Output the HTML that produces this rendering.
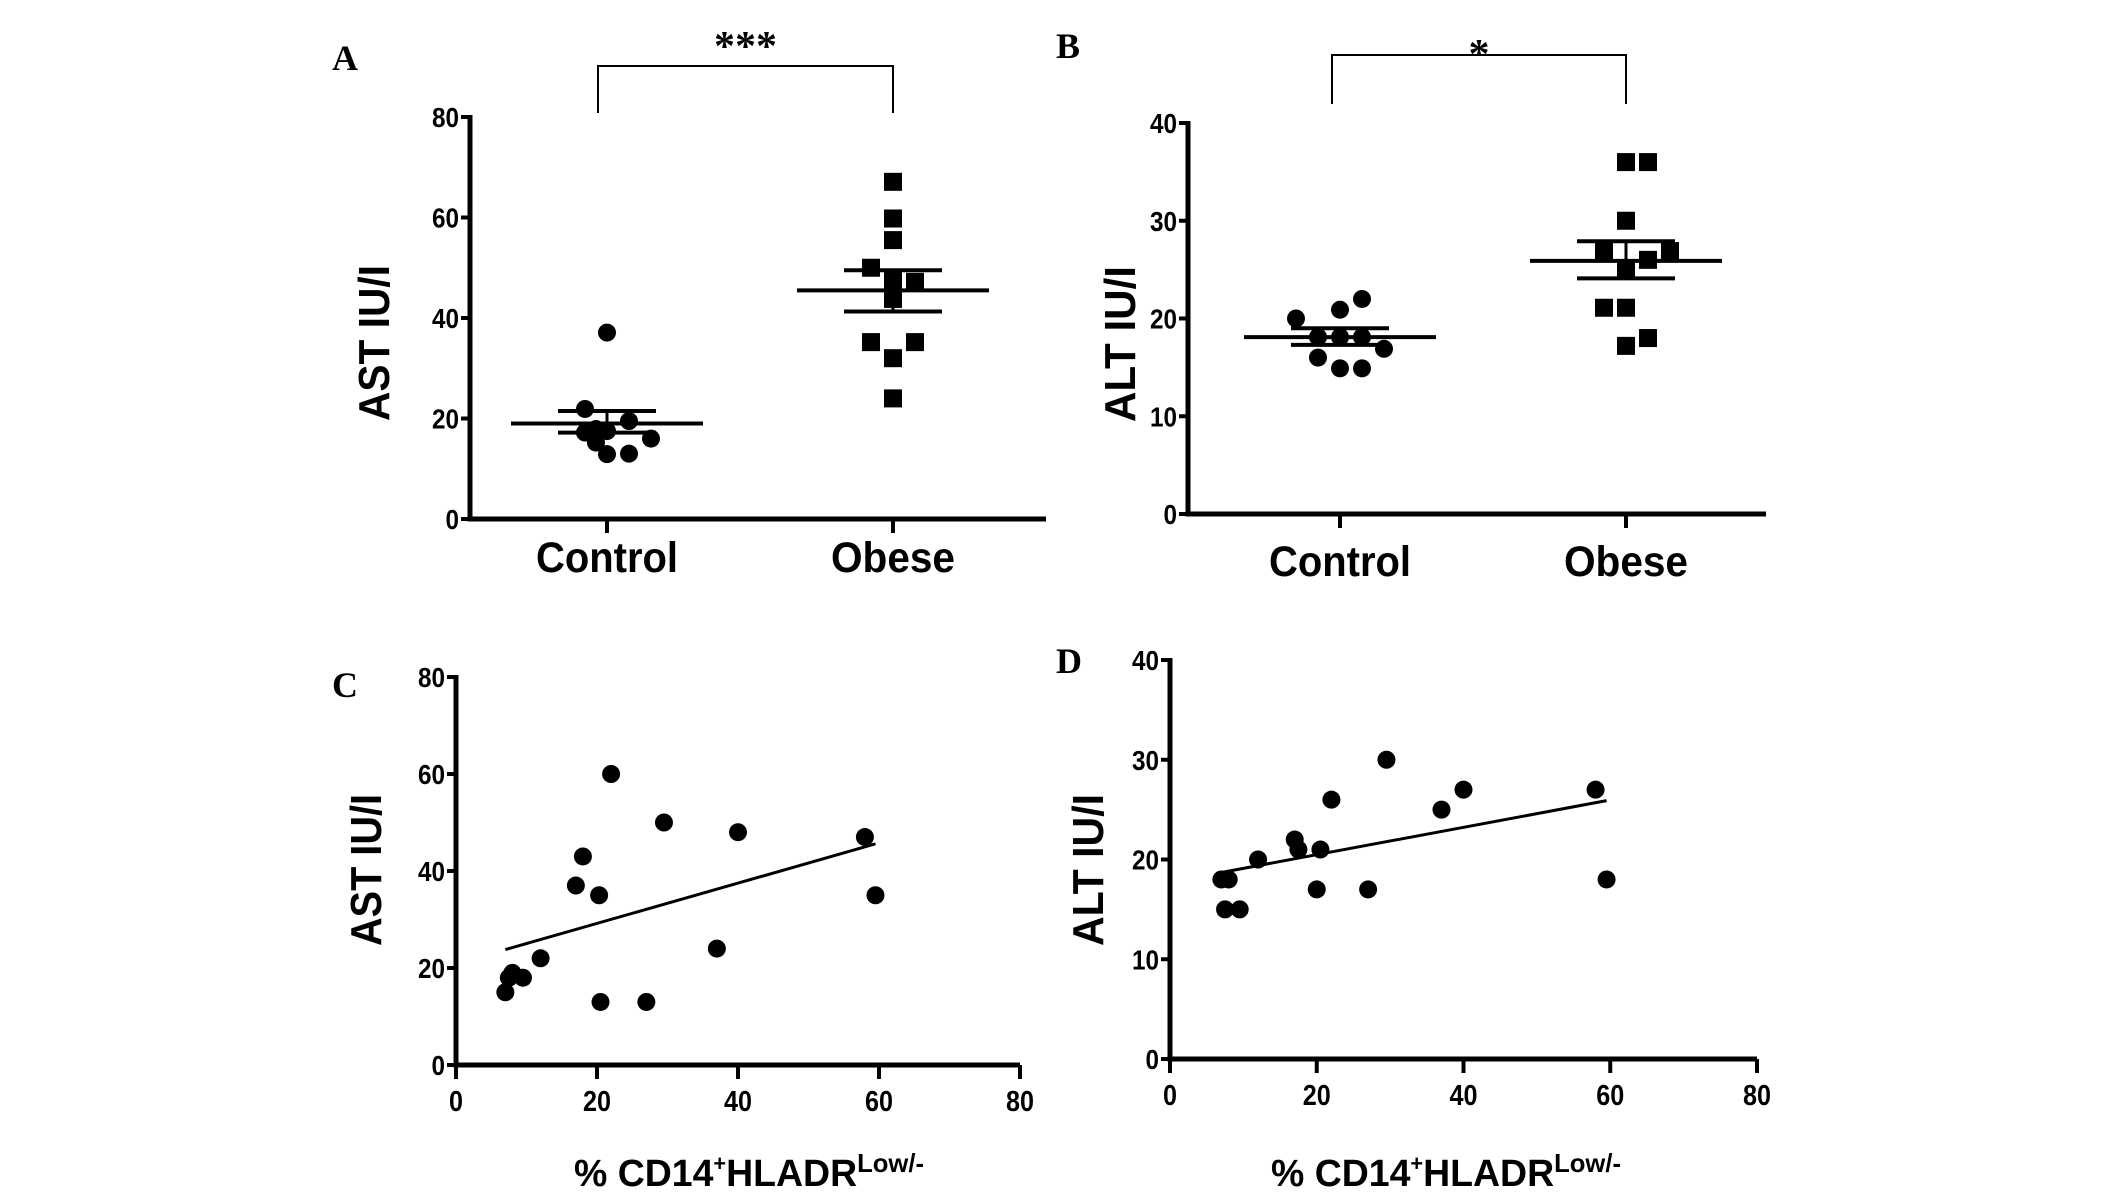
<!DOCTYPE html>
<html><head><meta charset="utf-8"><style>
html,body{margin:0;padding:0;background:#fff;overflow:hidden}
svg{display:block}
text{font-family:"Liberation Sans",sans-serif;font-weight:bold;fill:#000}
.serif{font-family:"Liberation Serif",serif}
</style></head><body>
<svg id="fig" width="2126" height="1192" viewBox="0 0 2126 1192" xmlns="http://www.w3.org/2000/svg"></svg>
<script>
// Panel A: AST by group
const aCategories = ["Control","Obese"];
const aControl = [37.1,21.9,19.5,17.9,17.2,17.5,16,15.2,12.9,13];
const aControlJit = [0,-1,1,-0.5,-1,0,2,-0.5,0,1];
const aObese = [67.1,59.8,55.5,50,47.6,47.2,43.8,35.2,35.2,32,24];
const aObeseJit = [0,0,0,-1,0,1,0,-1,1,0,0];
const aMean = [19, 45.5], aSemHi = [21.5, 49.5], aSemLo = [17.2, 41.3];
const aTicks = [0,20,40,60,80];
// Panel B: ALT by group
const bCategories = ["Control","Obese"];
const bControl = [20,20.9,22,18.1,18.1,18.1,16.9,16,14.9,14.9];
const bControlJit = [-2,0,1,-1,0,1,2,-1,0,1];
const bObese = [36,36,30,26.9,26.9,26,25,21.1,21.1,18,17.2];
const bObeseJit = [0,1,0,-1,2,1,0,-1,0,1,0];
const bMean = [18.1, 25.9], bSemHi = [19, 27.9], bSemLo = [17.3, 24.1];
const bTicks = [0,10,20,30,40];
// Panel C: AST vs %CD14+HLADR low
const cX = [7,7.5,8,9.5,12,17,18,20.3,20.5,22,27,29.5,37,40,58,59.5];
const cY = [15,18,19,18,22,37,43,35,13,60,13,50,24,48,47,35];
const cFit = [[7,23.8],[59.5,45.6]];
const cYTicks = [0,20,40,60,80], cXTicks = [0,20,40,60,80];
// Panel D: ALT vs %CD14+HLADR low
const dX = [7,8,7.5,9.5,12,17,17.5,20.5,20,22,27,29.5,37,40,58,59.5];
const dY = [18,18,15,15,20,22,21,21,17,26,17,30,25,27,27,18];
const dFit = [[7,18.7],[59.5,25.9]];
const dYTicks = [0,10,20,30,40], dXTicks = [0,20,40,60,80];

const NS="http://www.w3.org/2000/svg";
const svg=document.getElementById('fig');
function mk(tag,attrs,parent){const e=document.createElementNS(NS,tag);for(const k in attrs)e.setAttribute(k,attrs[k]);(parent||svg).appendChild(e);return e;}
function txt(s,attrs,parent){const e=mk('text',attrs,parent);e.textContent=s;return e;}

function axes(g,ax){
  const line=mk('path',{d:`M${ax.x0} ${ax.yTop-2} V${ax.y0} H${ax.xEnd}`,stroke:'#000','stroke-width':5,fill:'none'},g);
  
  
  ax.yticks.forEach(v=>{
    const y=ax.sy(v);
    const t=mk('line',{x1:ax.x0-9,x2:ax.x0,y1:y,y2:y,stroke:'#000','stroke-width':4},g);
    
    
    const l=txt(String(v),{x:ax.x0-11,y:y+10,'text-anchor':'end','font-size':28,textLength:String(v).length*13.5,lengthAdjust:'spacingAndGlyphs'},g);
    
    
  });
}
function ytitle(g,s,cx,cy,len){
  const t=txt(s,{x:0,y:0,'text-anchor':'middle','font-size':44,transform:`translate(${cx+15},${cy}) rotate(-90)`,textLength:len,lengthAdjust:'spacingAndGlyphs'},g);
  
  
}
function panelLabel(g,s,x,y){
  const t=txt(s,{x:x,y:y,'font-size':36,class:'serif'},g);
  
  
}
function group(name){const g=mk('g',{});return g;}

function groupPanel(name,o){
  const g=group(name);
  const sy=v=>o.y0-(v/o.ymax)*(o.y0-o.yTop);
  const ax={x0:o.x0,y0:o.y0,yTop:o.yTop,xEnd:o.xEnd,sy:sy,yticks:o.ticks};
  axes(g,ax);
  o.cats.forEach((c,i)=>{
    const x=o.cx[i];
    const t=mk('line',{x1:x,x2:x,y1:o.y0,y2:o.y0+14,stroke:'#000','stroke-width':4},g);
    
    
    const l=txt(c,{x:x,y:o.labY,'text-anchor':'middle','font-size':43,textLength:c==='Control'?142:124,lengthAdjust:'spacingAndGlyphs'},g);
    
    
  });
  const jit=o.jitStep;
  o.ctrl.forEach((v,i)=>{
    const c=mk('circle',{cx:o.cx[0]+o.ctrlJ[i]*jit,cy:sy(v),r:9,fill:'#000'},g);
    
    
  });
  o.obese.forEach((v,i)=>{
    const r=mk('rect',{x:o.cx[1]+o.obJ[i]*jit-9,y:sy(v)-9,width:18,height:18,fill:'#000'},g);
    
    
  });
  [0,1].forEach(i=>{
    const x=o.cx[i];
    const m=mk('line',{x1:x-96,x2:x+96,y1:sy(o.mean[i]),y2:sy(o.mean[i]),stroke:'#000','stroke-width':4},g);
    
    
    [o.hi[i],o.lo[i]].forEach(v=>{
      const s=mk('line',{x1:x-49,x2:x+49,y1:sy(v),y2:sy(v),stroke:'#000','stroke-width':4},g);
      
      
    });
    const vline=mk('line',{x1:x,x2:x,y1:sy(o.hi[i]),y2:sy(o.lo[i]),stroke:'#000','stroke-width':3},g);
    
    
  });
  const b=mk('path',{d:`M${o.br[0]} ${o.br[3]} V${o.br[2]} H${o.br[1]} V${o.br[3]}`,stroke:'#000','stroke-width':2,fill:'none'},g);
  
  
  const st=txt(o.star,{x:(o.br[0]+o.br[1])/2,y:o.starY,'text-anchor':'middle','font-size':42,class:'serif'},g);
  
  
  ytitle(g,o.ytitle,o.yt[0],o.yt[1],156);
  panelLabel(g,o.label,o.lab[0],o.lab[1]);
}

function scatterPanel(name,o){
  const g=group(name);
  const sy=v=>o.y0-(v/o.ymax)*(o.y0-o.yTop);
  const sx=v=>o.x0+(v/o.xmax)*(o.xEnd-o.x0);
  axes(g,{x0:o.x0,y0:o.y0,yTop:o.yTop,xEnd:o.xEnd,sy:sy,yticks:o.yticks});
  o.xticks.forEach(v=>{
    const x=sx(v);
    const t=mk('line',{x1:x,x2:x,y1:o.y0,y2:o.y0+14,stroke:'#000','stroke-width':4},g);
    
    
    const l=txt(String(v),{x:x,y:o.y0+46,'text-anchor':'middle','font-size':29,textLength:String(v).length*14,lengthAdjust:'spacingAndGlyphs'},g);
    
    
  });
  o.xs.forEach((xv,i)=>{
    const c=mk('circle',{cx:sx(xv),cy:sy(o.ys[i]),r:9,fill:'#000'},g);
    
    
  });
  const f=mk('line',{x1:sx(o.fit[0][0]),y1:sy(o.fit[0][1]),x2:sx(o.fit[1][0]),y2:sy(o.fit[1][1]),stroke:'#000','stroke-width':3},g);
  
  
  const xt=mk('text',{x:o.xtc,y:1186,'text-anchor':'middle','font-size':38,textLength:350,lengthAdjust:'spacingAndGlyphs'},g);
  
  
  xt.innerHTML='% CD14<tspan font-size="22" dy="-15">+</tspan><tspan dy="15">HLADR</tspan><tspan font-size="26" dy="-14">Low/-</tspan>';
  ytitle(g,o.ytitle,o.yt[0],o.yt[1],152);
  panelLabel(g,o.label,o.lab[0],o.lab[1]);
}

groupPanel('panel-a',{x0:470,y0:519,yTop:117,xEnd:1046,ymax:80,ticks:aTicks,cats:aCategories,cx:[607,893],labY:572,
  ctrl:aControl,ctrlJ:aControlJit,obese:aObese,obJ:aObeseJit,jitStep:22,mean:aMean,hi:aSemHi,lo:aSemLo,
  br:[598,893,66,113],star:'***',starY:60,ytitle:'AST IU/I',yt:[374,343],label:'A',lab:[332,70]});
groupPanel('panel-b',{x0:1188,y0:514,yTop:123,xEnd:1766,ymax:40,ticks:bTicks,cats:bCategories,cx:[1340,1626],labY:576,
  ctrl:bControl,ctrlJ:bControlJit,obese:bObese,obJ:bObeseJit,jitStep:22,mean:bMean,hi:bSemHi,lo:bSemLo,
  br:[1332,1626,55,104],star:'*',starY:68,ytitle:'ALT IU/I',yt:[1120,344],label:'B',lab:[1056,58]});
scatterPanel('panel-c',{x0:456,y0:1065,yTop:677,xEnd:1020,ymax:80,xmax:80,yticks:cYTicks,xticks:cXTicks,
  xs:cX,ys:cY,fit:cFit,xtc:749,ytitle:'AST IU/I',yt:[366,870],label:'C',lab:[332,697]});
scatterPanel('panel-d',{x0:1170,y0:1059,yTop:660,xEnd:1757,ymax:40,xmax:80,yticks:dYTicks,xticks:dXTicks,
  xs:dX,ys:dY,fit:dFit,xtc:1446,ytitle:'ALT IU/I',yt:[1088,870],label:'D',lab:[1056,673]});
</script>
</body></html>
